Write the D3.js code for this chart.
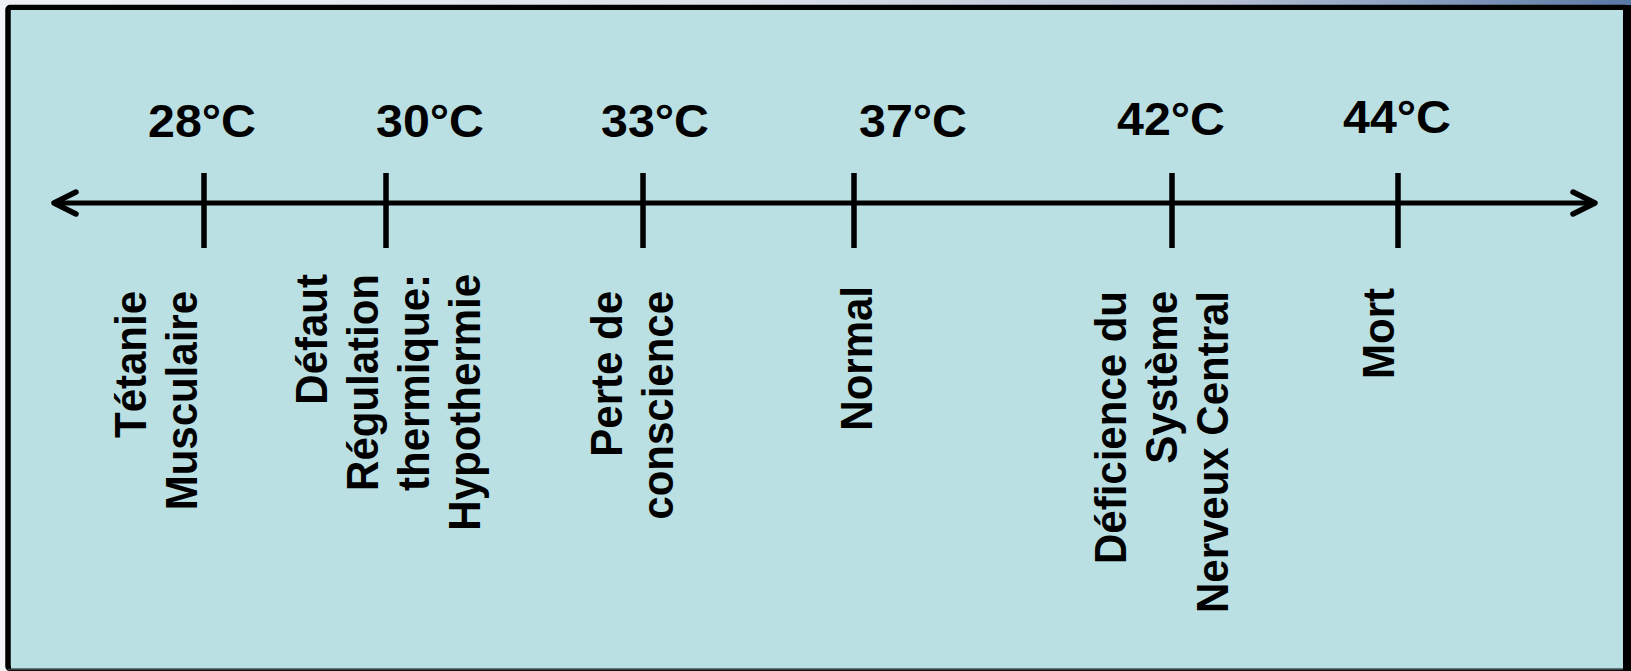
<!DOCTYPE html>
<html lang="fr">
<head>
<meta charset="utf-8">
<title>Température corporelle</title>
<script src="https://cdn.jsdelivr.net/npm/d3@7"></script>
<style>
  html, body { margin: 0; padding: 0; background: #f4f5f8; }
  svg { display: block; }
  text { font-family: "Liberation Sans", Arial, Helvetica, sans-serif; font-weight: bold; fill: #000; }
</style>
</head>
<body>
<svg id="chart" width="1631" height="671"></svg>
<script>
// Body temperature thresholds and their physiological effects
const temps = [28, 30, 33, 37, 42, 44];
const tempLabels = ["28°C", "30°C", "33°C", "37°C", "42°C", "44°C"];
const states = [
  ["Tétanie", "Musculaire"],
  ["Défaut", "Régulation", "thermique:", "Hypothermie"],
  ["Perte de", "conscience"],
  ["Normal"],
  ["Déficience du", "Système", "Nerveux Central"],
  ["Mort"]
];

// ---- layout ----
const W = 1631, H = 671;
const axisY = 203;
const axisLeft = 54, axisRight = 1595;
// the marks along the line are hand spaced, so the scale is piecewise
const tickStops = [204, 386, 643, 854, 1172, 1398];
const tickTop = 173, tickBottom = 248;
const stretchX = 1.05;           // text is slightly wider than tall
const tempFont = 46, stateFont = 42, lineGap = 51;
const tempShift = [-2, 44, 12, 59, -1, -1];
const tempBase = [137, 137, 137, 137, 135, 133];
const stateShift = [-7, 94, 30, 18, 56, -4];   // x of last line baseline from its mark
const stateEnd = [291, 274, 291, 286, 291, 288];

const svg = d3.select("#chart");

// header strip with gradient above the panel
const defs = svg.append("defs");
const grad = defs.append("linearGradient").attr("id", "topStrip")
  .attr("x1", "0%").attr("x2", "100%").attr("y1", "0%").attr("y2", "0%");
[["0%", "#eef0f5"], ["45%", "#dde1ea"], ["75%", "#b4c0d4"], ["100%", "#5a78a6"]]
  .forEach(([o, c]) => grad.append("stop").attr("offset", o).attr("stop-color", c));
svg.append("rect").attr("x", 0).attr("y", 0).attr("width", W).attr("height", 6)
  .attr("fill", "url(#topStrip)");

// panel
svg.append("rect").attr("x", 8).attr("y", 7.5).attr("width", 1619).attr("height", 661)
  .attr("fill", "#bae0e3").attr("stroke", "#000").attr("stroke-width", 5.5).attr("rx", 2);
svg.append("rect").attr("x", 1623).attr("y", 5).attr("width", 8).attr("height", H - 5).attr("fill", "#000");
svg.append("line").attr("x1", 8).attr("x2", 1623).attr("y1", 669.5).attr("y2", 669.5)
  .attr("stroke", "#3a4446").attr("stroke-width", 1.5);
svg.append("rect").attr("x", 11).attr("y", 10).attr("width", 1612).attr("height", 658.5).attr("fill", "#bae0e3");

const x = d3.scaleLinear().domain(temps).range(tickStops);

// double-headed axis line
const g = svg.append("g").attr("stroke", "#000").attr("fill", "none")
  .attr("stroke-linecap", "round").attr("stroke-linejoin", "round");
g.append("line").attr("x1", axisLeft + 2).attr("x2", axisRight - 2)
  .attr("y1", axisY).attr("y2", axisY).attr("stroke-width", 5).attr("stroke-linecap", "butt");
g.append("path").attr("stroke-width", 5.5)
  .attr("d", `M${axisLeft + 22},${axisY - 11}L${axisLeft},${axisY}L${axisLeft + 22},${axisY + 11}`);
g.append("path").attr("stroke-width", 5.5)
  .attr("d", `M${axisRight - 22},${axisY - 11}L${axisRight},${axisY}L${axisRight - 22},${axisY + 11}`);

// marks
svg.append("g").selectAll("line").data(temps).join("line")
  .attr("x1", d => x(d)).attr("x2", d => x(d))
  .attr("y1", tickTop).attr("y2", tickBottom)
  .attr("stroke", "#000").attr("stroke-width", 5.5);

// temperature labels
svg.append("g").selectAll("text").data(temps).join("text")
  .attr("transform", (d, i) => `translate(${x(d) + tempShift[i]},${tempBase[i]}) scale(${stretchX},1)`)
  .attr("text-anchor", "middle")
  .attr("font-size", tempFont)
  .text((d, i) => tempLabels[i]);

// rotated descriptions, lines flush at their top end
const groups = svg.append("g").selectAll("g").data(temps).join("g");
groups.each(function (d, i) {
  const lines = states[i];
  const lastX = x(d) + stateShift[i];
  d3.select(this).selectAll("text").data(lines).join("text")
    .attr("transform", (t, j) =>
      `translate(${lastX - (lines.length - 1 - j) * lineGap},${stateEnd[i]}) scale(${stretchX},1) rotate(-90)`)
    .attr("text-anchor", "end")
    .attr("font-size", stateFont)
    .text(t => t);
});
</script>
</body>
</html>
